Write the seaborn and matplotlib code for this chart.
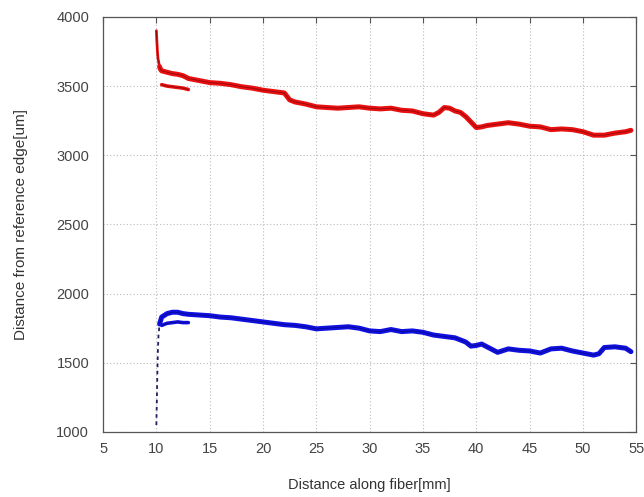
import matplotlib
matplotlib.use("Agg")
import matplotlib.pyplot as plt
import seaborn as sns
import pandas as pd

# ---- data ----
red_x = [10.0, 10.05, 10.1, 10.15, 10.2, 10.3, 10.4, 10.5, 11.0, 11.5, 12.0, 12.5, 13.0,
         14, 15, 16, 17, 18, 19, 20, 21, 22, 22.5, 23, 24, 25, 26, 27, 28, 29, 30, 31, 32,
         33, 34, 35, 36, 36.5, 37, 37.5, 38, 38.5, 39, 39.5, 40, 40.5, 41, 42, 43, 44, 45,
         46, 47, 48, 49, 50, 51, 52, 53, 54, 54.5]
red_y = [3900, 3820, 3750, 3700, 3680, 3640, 3620, 3610, 3600, 3590, 3585, 3575, 3555,
         3540, 3525, 3520, 3510, 3495, 3485, 3470, 3460, 3450, 3400, 3385, 3370, 3350, 3345,
         3340, 3345, 3350, 3340, 3335, 3340, 3325, 3320, 3300, 3290, 3310, 3345, 3340, 3320,
         3310, 3280, 3240, 3200, 3205, 3215, 3225, 3235, 3225, 3210, 3205, 3185, 3190, 3185,
         3170, 3145, 3145, 3160, 3170, 3180]
red_branch_x = [10.5, 11, 11.5, 12, 12.5, 13]
red_branch_y = [3510, 3500, 3495, 3490, 3485, 3475]

blue_x = [10.0, 10.05, 10.1, 10.15, 10.2, 10.3, 10.5, 11, 11.5, 12, 12.5, 13, 14, 15, 16,
          17, 18, 19, 20, 21, 22, 23, 24, 25, 26, 27, 28, 29, 30, 31, 32, 33, 34, 35, 36,
          37, 38, 39, 39.5, 40, 40.5, 41, 42, 43, 44, 45, 46, 47, 48, 49, 50, 51, 51.5, 52,
          53, 54, 54.5]
blue_y = [1050, 1250, 1450, 1600, 1700, 1780, 1830, 1855, 1865, 1865, 1855, 1850, 1845,
          1840, 1830, 1825, 1815, 1805, 1795, 1785, 1775, 1770, 1760, 1745, 1750, 1755, 1760,
          1750, 1730, 1725, 1740, 1725, 1730, 1720, 1700, 1690, 1680, 1650, 1620, 1625, 1635,
          1615, 1575, 1600, 1590, 1585, 1570, 1600, 1605, 1585, 1570, 1555, 1565, 1610, 1615,
          1605, 1580]
blue_branch_x = [10.5, 11, 11.5, 12, 12.5, 13]
blue_branch_y = [1770, 1785, 1790, 1795, 1790, 1790]

x_ticks = [5, 10, 15, 20, 25, 30, 35, 40, 45, 50, 55]
y_ticks = [1000, 1500, 2000, 2500, 3000, 3500, 4000]

RED = "#e81010"
BLUE = "#1010e0"

sns.set_style("white")
plt.rcParams['font.family'] = ['Liberation Sans', 'DejaVu Sans']

fig = plt.figure(figsize=(6.44, 4.97), dpi=100)
ax = fig.add_axes([0.16, 0.131, 0.828, 0.835])


def draw(xs, ys, col, dark, lw):
    df = pd.DataFrame({"x": xs, "y": ys})
    sns.lineplot(data=df, x="x", y="y", ax=ax, color=col, linewidth=lw,
                 sort=False, estimator=None)
    sns.lineplot(data=df, x="x", y="y", ax=ax, color=dark, linewidth=0.6,
                 alpha=0.45, sort=False, estimator=None)


# red: thin spike then thick trace
draw(red_x[:6], red_y[:6], RED, "#300000", 2.0)
draw(red_x[5:], red_y[5:], RED, "#300000", 3.6)
draw(red_branch_x, red_branch_y, RED, "#300000", 2.6)
# blue: thin dotted spike then thick trace
dfs = pd.DataFrame({"x": blue_x[:6], "y": blue_y[:6]})
sns.lineplot(data=dfs, x="x", y="y", ax=ax, color="#202060", linewidth=1.3,
             linestyle=(0, (2, 2)), sort=False, estimator=None)
draw(blue_x[5:], blue_y[5:], BLUE, "#000030", 3.6)
draw(blue_branch_x, blue_branch_y, BLUE, "#000030", 2.6)

ax.set_xlim(5, 55)
ax.set_ylim(1000, 4000)
ax.set_xticks(x_ticks)
ax.set_yticks(y_ticks)
ax.grid(True, linestyle=(0, (1, 2)), color="#bbbbbb", linewidth=0.8)
ax.tick_params(direction="in", top=True, right=True, length=4, width=0.8,
               color="#555555", labelsize=10.5, labelcolor="#444444")
ax.tick_params(axis="y", pad=10)
ax.tick_params(axis="x", pad=7)
for s in ax.spines.values():
    s.set_color("#555555")
    s.set_linewidth(0.9)
ax.set_xlabel("Distance along fiber[mm]", fontsize=10.5, color="#333333", labelpad=16)
ax.set_ylabel("Distance from reference edge[um]", fontsize=11, color="#333333", labelpad=20)

fig.savefig("out.png", dpi=100)
